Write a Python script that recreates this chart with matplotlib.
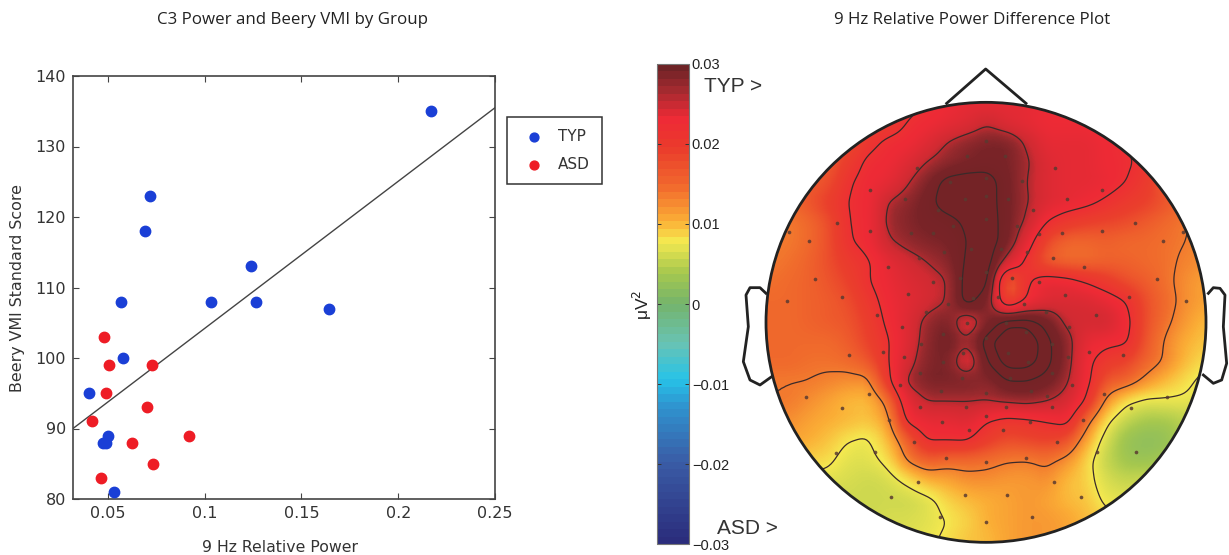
import numpy as np
import matplotlib
matplotlib.use('Agg')
import matplotlib.pyplot as plt
from matplotlib.cm import ScalarMappable
from matplotlib.colors import LinearSegmentedColormap, Normalize
from matplotlib.patches import Circle

W, H = 1229, 555
plt.rcParams['font.family'] = ['DejaVu Sans']

# ---- scatter data
typ_x = [0.217, 0.072, 0.069, 0.124, 0.057, 0.1035, 0.1265, 0.1645, 0.058, 0.0405, 0.050, 0.0475, 0.049, 0.053]
typ_y = [135, 123, 118, 113, 108, 108, 108, 107, 100, 95, 89, 88, 88, 81]
asd_x = [0.048, 0.0505, 0.0726, 0.049, 0.070, 0.042, 0.092, 0.0626, 0.0734, 0.0463]
asd_y = [103, 99, 99, 95, 93, 91, 89, 88, 85, 83]
fit_x = [0.032, 0.25]
fit_y = [90, 135.5]
x_ticks = [0.05, 0.1, 0.15, 0.2, 0.25]
x_labels = ['0.05', '0.1', '0.15', '0.2', '0.25']
y_ticks = [80, 90, 100, 110, 120, 130, 140]
cb_ticks = [-0.03, -0.02, -0.01, 0, 0.01, 0.02, 0.03]
cb_labels = ['\u22120.03', '\u22120.02', '\u22120.01', '0', '0.01', '0.02', '0.03']

# ---- topography, in 0.001 uV^2 (rows front to back, columns left to right)
topo = np.array([
 [15,15,15,15,16,17,18,19,20,21,22,22,22,22,21,21,20,20,19,18,16,15,15],
 [15,15,15,15,16,17,18,20,21,22,23,25,23,22,21,21,21,20,19,18,16,15,15],
 [15,15,15,15,16,19,20.5,21,23,25.5,27,28,28,25,22,22,22,21,20,18,16,15,15],
 [15,15,15,15,18,20.5,21,23,25.5,27,28,28.5,28,26,23,22,22,21,20.5,19,16,15,15],
 [15,15,15,16,19.5,21,22,25,28,31,31.5,31.5,28.5,25.5,23,22,22,21.5,20,18,15,15,15],
 [14,14,15.5,17.5,20,21,25.5,27,29,31.5,32,31.5,28.5,25.8,23,22,21,19.5,18,17,15.5,14,14],
 [13,13,14,16,19.8,21,26,27.5,28.5,29,30.5,32,28.5,25,20,18,17,16.5,16,15,14,13,13],
 [13,13,14,16,19.5,21,25,26.5,27.5,28,30,32,28.5,22,16,14,14,14.5,14,14,13.5,13,12],
 [13,13.5,14.5,16,18,19.5,22,24,25.5,27,30.5,32,24,19,15,14,14,14.5,14.5,14,13.5,12.5,12],
 [13.5,14,14.5,15.5,17,19.7,21.5,23,24,25.3,31.5,31.5,13,19.5,22,21.5,19.8,18,16,15,13.5,12,11],
 [14,14,14.5,15,16,18.5,21,22.5,24,25.5,31.5,28,16,20.5,23,23.5,23.5,22,20,16,14,12,11],
 [14,14,14.5,15,15.5,17.5,20.5,23,26.5,28,22,27.5,31.5,31.5,29,24.5,24,24.5,21,16,13.5,11.5,10],
 [14,14,14,14,15,17,19.5,23,27,29,26,31.5,33.5,33.5,31,27,22,21,20.5,15.5,12.5,10.5,9.5],
 [14,14,13.5,13.5,14,15.5,19.5,24,27.5,28,22,30,33,33,31,27,21,18,17,14.5,12.5,10,8.5],
 [13,13,13,12.5,12,12,18.5,26,28,28,28,27,30,30,29,26,21,15.5,14.5,12,10,8.5,7],
 [13,13,12,11,10,10,13.5,22.5,25.5,25.5,25.5,25.5,26,26.5,25.5,24,19.5,12,8.5,7.3,7.5,7.5,7],
 [12,12,11,10.5,10,9.5,11.5,20.5,22,22,23,20,18.5,19,20,21,14,8.5,5.5,4,4,5,5],
 [11,11,10.5,9.5,8,7.5,10,15,20,20,20,17.5,16,16.5,17,16,11,6.5,3,2,2.5,5,5],
 [9,9,9,8.5,7,7,8.5,13,15,14,14,13.7,13,12.8,13.5,12,9,5.5,3.5,3,4,5,5],
 [7,7,7,7,6.5,6,6.5,8.5,10.5,11,12,12,11.5,11.5,12,10,9,6.5,5.5,6,6,6,6],
 [6,6,6,6,6,6,6,6,7,9,10,10.5,11,11.5,11,10,9.5,7.5,7,7,7,7,7],
 [6,6,6,6,6,6,6.5,6.5,7,8,9,10.5,11,11.5,11.5,11,10,9,8,8,8,8,8],
 [6,6,6,6,6,6,6.5,7,7.5,8.5,9.5,10,11,11.5,11.5,11,10,9,8,8,8,8,8],
]) * 0.001
contour_levels = [0.008, 0.013, 0.020, 0.0255, 0.030, 0.032]

electrodes = [(738,243),(682,287),(795,287),(532,325),(945,325),(390,390),(1087,390),(630,365),(738,353),(845,363),
 (495,418),(675,418),(738,407),(803,418),(982,418),(595,450),(880,450),(738,476),(640,498),(832,498),(292,488),
 (1185,488),(147,515),(390,513),(512,520),(578,520),(897,522),(965,520),(1087,513),(1330,515),(207,544),(1270,544),
 (612,575),(692,568),(783,568),(862,575),(537,595),(940,595),(443,620),(1033,622),(738,636),(660,655),(815,653),
 (897,665),(225,657),(578,665),(1252,657),(142,722),(307,710),(503,702),(700,715),(773,712),(975,705),(1168,710),
 (1337,722),(625,733),(852,733),(557,755),(918,755),(410,765),(1068,765),(487,800),(797,788),(988,800),(682,790),
 (610,822),(857,817),(738,835),(935,852),(543,853),(428,877),(328,885),(492,890),(670,878),(803,878),(983,890),
 (1048,877),(1148,885),(610,907),(865,907),(540,938),(937,940),(480,975),(667,955),(810,955),(995,975),(603,992),
 (738,998),(873,992),(387,1002),(197,1010),(1092,1002),(1280,1010),(920,1008),(540,1040),(678,1040),(798,1040),
 (937,1042),(305,1045),(1172,1045),(447,1080),(605,1085),(738,1067),(870,1085),(1028,1080),(688,1110),(788,1110),
 (288,1178),(405,1177),(523,1147),(952,1147),(1070,1177),(1188,1177),(617,1193),(738,1207),(857,1193),(533,1265),
 (943,1265),(453,1312),(675,1305),(800,1305),(1023,1312),(600,1372),(738,1385),(875,1372)]

bar_stops = [(-0.03,'#2b2d7c'),(-0.02,'#3a5ca6'),(-0.013,'#2f93cf'),(-0.0095,'#27c3e8'),(-0.005,'#68c3b4'),
 (0,'#74b46c'),(0.004,'#a6c84e'),(0.008,'#f5e950'),(0.0105,'#fbae36'),(0.015,'#f1682d'),(0.02,'#ea3a2c'),
 (0.0235,'#ee2a36'),(0.027,'#a52a2f'),(0.03,'#6e2326')]
map_stops = [(-0.03,'#2b2d7c'),(-0.01,'#27c3e8'),(0,'#74b46c'),(0.004,'#a6c84e'),(0.008,'#f5e950'),
 (0.0105,'#fbae36'),(0.0135,'#f1702d'),(0.017,'#ea402c'),(0.021,'#ee2a36'),(0.0245,'#d02a32'),
 (0.0262,'#9a2a2e'),(0.028,'#7a2428'),(0.03,'#742326')]


def px_axes(l, t, r, b, **kw):
    return fig.add_axes([l / W, 1 - b / H, (r - l) / W, (b - t) / H], **kw)


fig = plt.figure(figsize=(W / 100, H / 100), dpi=100)
ink = '#333333'

# ---- left panel
ax = px_axes(73, 76, 495, 499)
ax.plot(fit_x, fit_y, color='#444444', lw=1.0, zorder=2)
ax.scatter(typ_x, typ_y, s=56, color='#1a3fd6', label='TYP', zorder=3)
ax.scatter(asd_x, asd_y, s=56, color='#ee1c25', label='ASD', zorder=3)
ax.set_xlim(0.032, 0.25)
ax.set_ylim(80, 140)
ax.set_xticks(x_ticks, x_labels)
ax.set_yticks(y_ticks)
ax.tick_params(direction='in', top=True, right=True, length=4, width=0.8, color='#444444',
               labelsize=11.5, labelcolor=ink, pad=5)
for s in ax.spines.values():
    s.set_color('#444444')
    s.set_linewidth(1.2)
fig.text(280.5 / W, 1 - 548 / H, '9 Hz Relative Power', ha='center', va='center', fontsize=11.3, color=ink)
fig.text(18 / W, 1 - 288 / H, 'Beery VMI Standard Score', rotation=90, ha='center', va='center',
         fontsize=11.4, color=ink)
leg = ax.legend(loc='upper left', bbox_to_anchor=(506.5 / W, 1 - 117 / H), bbox_transform=fig.transFigure,
                frameon=True, fancybox=False, edgecolor='#333333', framealpha=1, fontsize=11,
                borderaxespad=0, borderpad=0.8, labelspacing=0.85, handletextpad=0.55, markerscale=0.85,
                labelcolor=ink)
leg.get_frame().set_linewidth(1.1)

fig.text(292.5 / W, 1 - 19.5 / H, 'C3 Power and Beery VMI by Group', ha='center', va='center',
         fontsize=12.2, family='Open Sans', color='#222222')
fig.text(972.5 / W, 1 - 19.5 / H, '9 Hz Relative Power Difference Plot', ha='center', va='center',
         fontsize=12.2, family='Open Sans', color='#222222')

# ---- colormaps
bar_cmap = LinearSegmentedColormap.from_list('bar', [((v + 0.03) / 0.06, c) for v, c in bar_stops], N=64)
map_cmap = LinearSegmentedColormap.from_list('map', [((v + 0.03) / 0.06, c) for v, c in map_stops], N=512)
norm = Normalize(-0.03, 0.03)


def upsample(a, k):
    n = (a.shape[0] - 1) * k + 1
    old = np.arange(a.shape[0])
    new = np.linspace(0, a.shape[0] - 1, n)
    a = np.array([np.interp(new, old, row) for row in a])
    a = np.array([np.interp(new, old, col) for col in a.T]).T
    return a


def smooth(a, w, passes=2):
    kern = np.ones(w) / w
    for _ in range(passes):
        p = np.pad(a, w // 2, mode='edge')
        p = np.apply_along_axis(lambda m: np.convolve(m, kern, mode='valid'), 0, p)
        p = np.apply_along_axis(lambda m: np.convolve(m, kern, mode='valid'), 1, p)
        a = p
    return a


# ---- head map (axes in crop units: 3 units per pixel)
hx = px_axes(740, 60, 1229, 555)
cx, cy, rad = 738, 787, 660
extent = (80, 1400, 1445, 125)
fine = smooth(upsample(topo, 9), 5)
clip = Circle((cx, cy), rad, transform=hx.transData)
blocks = smooth(upsample(topo, 3), 3, 1)
im = hx.imshow(blocks, extent=extent, cmap=map_cmap, norm=norm, interpolation='bilinear', zorder=1, aspect='auto')
im.set_clip_path(clip)
hx.set_xlim(0, 1467)
hx.set_ylim(1485, 0)
hx.axis('off')
gx = np.linspace(80, 1400, fine.shape[1])
gy = np.linspace(125, 1445, fine.shape[0])
cs = hx.contour(gx, gy, fine, levels=contour_levels, colors='#3a2a2a', linewidths=0.9, zorder=2)
cs.set_clip_path(clip)
ex, ey = zip(*electrodes)
hx.scatter(ex, ey, s=7, color='#5a3a30', alpha=0.85, linewidths=0, zorder=3)
hx.add_patch(Circle((cx, cy), rad, fill=False, ec='#222222', lw=2.0, zorder=4))
nose_x, nose_y = [620, 737, 858], [130, 27, 130]
hx.plot(nose_x, nose_y, color='#222222', lw=2.0, zorder=4, solid_joinstyle='round')
ear_l_x = [78, 60, 30, 18, 25, 10, 30, 60, 95]
ear_l_y = [700, 683, 683, 705, 800, 905, 960, 975, 950]
ear_r_x = [1405, 1420, 1440, 1455, 1450, 1460, 1445, 1420, 1390]
ear_r_y = [700, 683, 685, 705, 800, 910, 960, 970, 945]
hx.plot(ear_l_x, ear_l_y, color='#222222', lw=2.0, zorder=4)
hx.plot(ear_r_x, ear_r_y, color='#222222', lw=2.0, zorder=4)

# ---- colorbar
cax = px_axes(657, 64, 689, 544)
cb = fig.colorbar(ScalarMappable(norm=norm, cmap=bar_cmap), cax=cax)
cb.set_ticks(cb_ticks, labels=cb_labels)
cax.tick_params(axis='y', direction='in', length=3, width=0.7, color='#333333', labelsize=10.5,
                labelcolor='#222222', pad=2, left=True, right=True, labelfontfamily='Liberation Sans')
cb.outline.set_edgecolor('#777777')
cb.outline.set_linewidth(0.8)
fig.text(642 / W, 1 - 305 / H, 'μV$^2$', rotation=90, ha='center', va='center', fontsize=12.5,
         family='Liberation Sans', color='#222222')
fig.text(733.5 / W, 1 - 86 / H, 'TYP >', ha='center', va='center', fontsize=15, family='Liberation Sans', color='#333333')
fig.text(747 / W, 1 - 528 / H, 'ASD >', ha='center', va='center', fontsize=15, family='Liberation Sans', color='#333333')

fig.savefig('out.png', dpi=100)
